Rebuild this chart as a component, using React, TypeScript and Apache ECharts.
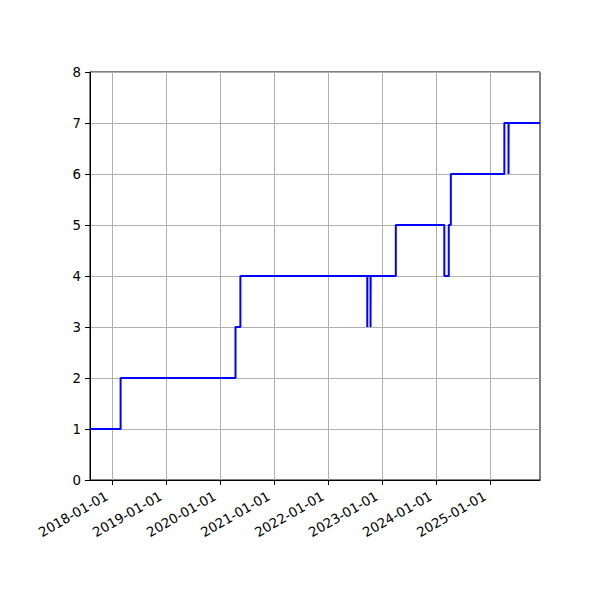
import React, { useEffect, useRef } from 'react';
import * as echarts from 'echarts';

// step changes (value holds until the next date)
const stepDates = [
  '2017-08-05', '2018-02-28', '2020-04-15', '2020-05-18',
  '2022-09-23', '2022-09-24', '2022-10-15', '2022-10-16',
  '2023-04-04', '2024-02-26', '2024-03-27', '2024-04-10',
  '2025-04-07', '2025-05-05', '2025-05-06', '2025-12-04',
];
const stepValues = [1, 2, 3, 4, 3, 4, 3, 4, 5, 4, 5, 6, 7, 6, 7, 7];

const tickDates = [
  '2018-01-01', '2019-01-01', '2020-01-01', '2021-01-01',
  '2022-01-01', '2023-01-01', '2024-01-01', '2025-01-01',
];

const xMin = '2017-08-05';
const xMax = '2025-12-04';

const toTs = (s: string) => {
  const [y, m, d] = s.split('-').map(Number);
  return Date.UTC(y, m - 1, d);
};

const pad = (n: number) => (n < 10 ? '0' + n : '' + n);
const fmtDate = (v: number) => {
  const d = new Date(v);
  return d.getUTCFullYear() + '-' + pad(d.getUTCMonth() + 1) + '-' + pad(d.getUTCDate());
};

const FONT = 'DejaVu Sans';

const App: React.FC = () => {
  const chartRef = useRef<HTMLDivElement>(null);

  useEffect(() => {
    if (!chartRef.current) return;
    const chart = echarts.init(chartRef.current, null, { renderer: 'svg' });
    const tickTs = tickDates.map(toTs);

    const option: echarts.EChartsOption = {
      animation: false,
      backgroundColor: '#ffffff',
      grid: {
        left: 90,
        right: 60,
        top: 72,
        bottom: 120,
        show: true,
        borderColor: '#000000',
        borderWidth: 1,
        backgroundColor: 'transparent',
      },
      xAxis: {
        type: 'value',
        min: toTs(xMin),
        max: toTs(xMax),
        axisLine: { show: true, lineStyle: { color: '#000000', width: 1 } },
        axisTick: {
          show: true,
          length: 5,
          lineStyle: { color: '#000000', width: 1 },
          customValues: tickTs,
        },
        axisLabel: {
          customValues: tickTs,
          rotate: 30,
          margin: 12,
          padding: [0, 6, 0, 0],
          color: '#000000',
          fontSize: 13.33,
          fontFamily: FONT,
          formatter: (v: number) => fmtDate(v),
        },
        splitLine: { show: true, lineStyle: { color: '#b0b0b0', width: 1 } },
      },
      yAxis: {
        type: 'value',
        min: 0,
        max: 8,
        interval: 1,
        axisLine: { show: true, lineStyle: { color: '#000000', width: 1 } },
        axisTick: { show: true, length: 5, lineStyle: { color: '#000000', width: 1 } },
        axisLabel: { margin: 9, color: '#000000', fontSize: 13.33, fontFamily: FONT },
        splitLine: { show: true, lineStyle: { color: '#b0b0b0', width: 1 } },
      },
      series: [
        {
          type: 'line',
          step: 'end',
          symbol: 'none',
          clip: true,
          data: stepDates.map((d, i) => [toTs(d), stepValues[i]]),
          lineStyle: { color: '#0000ff', width: 2 },
        },
      ],
    };

    chart.setOption(option);
    return () => {
      chart.dispose();
    };
  }, []);

  return (
    <div
      ref={chartRef}
      style={{ position: 'fixed', left: 0, top: 0, width: '600px', height: '600px' }}
    />
  );
};

export default App;
